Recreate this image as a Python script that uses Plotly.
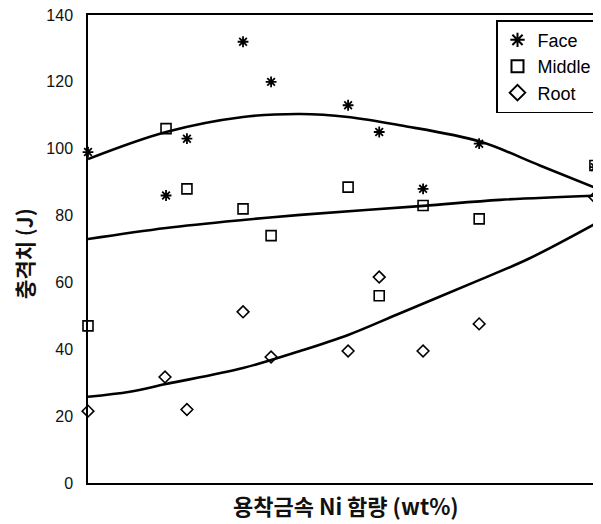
import plotly.graph_objects as go

# Relative Ni-content position along the (unlabelled) x axis
face_x = [0, 15.3, 19.4, 30.4, 35.9, 51.0, 57.1, 65.7, 76.7, 99.4]
face_y = [99, 86, 103, 132, 120, 113, 105, 88, 101.5, 94.5]

middle_x = [0, 15.3, 19.4, 30.4, 35.9, 51.0, 57.1, 65.7, 76.7, 99.4]
middle_y = [47, 106, 88, 82, 74, 88.5, 56, 83, 79, 95]

root_x = [0, 15.1, 19.4, 30.4, 35.9, 51.0, 57.1, 65.7, 76.7, 99.4]
root_y = [21.5, 31.7, 22, 51.2, 37.7, 39.5, 61.6, 39.5, 47.6, 85.5]

# Trend curves
face_fit_x = [0, 15.3, 30.4, 41.6, 51.0, 61.2, 76.7, 88.6, 100]
face_fit_y = [96.9, 105, 109.5, 110.4, 109.5, 107, 102.2, 95, 88]

middle_fit_x = [0, 15.3, 30.4, 41.6, 65.7, 80.8, 100]
middle_fit_y = [73, 76.3, 78.7, 80.2, 82.9, 84.7, 86]

root_fit_x = [0, 8.2, 15.3, 30.4, 41.6, 51.0, 61.2, 76.7, 86.3, 100]
root_fit_y = [25.8, 27.3, 29.6, 34.4, 39.5, 44.3, 50.8, 60.7, 67, 78]

y_ticks = [0, 20, 40, 60, 80, 100, 120, 140]

fig = go.Figure()

for fx, fy in [(face_fit_x, face_fit_y), (middle_fit_x, middle_fit_y), (root_fit_x, root_fit_y)]:
    fig.add_trace(go.Scatter(x=fx, y=fy, mode="lines", line=dict(color="black", width=2.6, shape="spline", smoothing=1.0),
                             showlegend=False, hoverinfo="skip", cliponaxis=False))

fig.add_trace(go.Scatter(x=face_x, y=face_y, mode="markers", name="Face",
                         marker=dict(symbol="asterisk-open", size=9, color="black", line=dict(color="black", width=1.8)),
                         cliponaxis=False))
fig.add_trace(go.Scatter(x=middle_x, y=middle_y, mode="markers", name="Middle",
                         marker=dict(symbol="square-open", size=10, color="black", line=dict(color="black", width=1.6)),
                         cliponaxis=False))
fig.add_trace(go.Scatter(x=root_x, y=root_y, mode="markers", name="Root",
                         marker=dict(symbol="diamond-open", size=9, color="black", line=dict(color="black", width=1.6)),
                         cliponaxis=False))

# page body adds an 8px offset; figure sized so plot area lands at x 88-598, y 15-483
fig.update_layout(
    width=593, height=516,
    margin=dict(l=80, r=3, t=7, b=41, autoexpand=False),
    paper_bgcolor="white", plot_bgcolor="white",
    font=dict(family="Liberation Sans, Arial, sans-serif", color="black"),
    showlegend=True,
    legend=dict(x=1.0, y=0.989, xanchor="right", yanchor="top",
                bordercolor="black", borderwidth=1.5, bgcolor="white",
                font=dict(size=18, family="Liberation Sans, Arial, sans-serif", color="black"),
                tracegroupgap=0, itemsizing="constant", itemwidth=30),
    xaxis=dict(range=[0, 100], showgrid=False, zeroline=False, showticklabels=False, ticks="",
               showline=True, linecolor="black", linewidth=1.5, mirror=True, fixedrange=True,
               automargin=False),
    yaxis=dict(range=[0, 140], tickvals=y_ticks, showgrid=False, zeroline=False, ticks="",
               showline=True, linecolor="black", linewidth=1.5, mirror=True,
               tickfont=dict(size=16, color="#111"), ticklabelstandoff=10,
               ticklabeloverflow="allow", automargin=False),
    annotations=[
        dict(text="<b>충격치 (J)</b>", xref="paper", yref="paper", x=-0.127, y=0.49,
             textangle=-90, showarrow=False, xanchor="center", yanchor="middle",
             font=dict(size=21, family="Noto Sans CJK KR", color="#111")),
        dict(text="<b>용착금속 Ni 함량 (wt%)</b>", xref="paper", yref="paper", x=0.505, y=-0.047,
             showarrow=False, xanchor="center", yanchor="middle",
             font=dict(size=22, family="Noto Sans CJK KR", color="#111")),
    ],
)

fig.write_html("out.html")
